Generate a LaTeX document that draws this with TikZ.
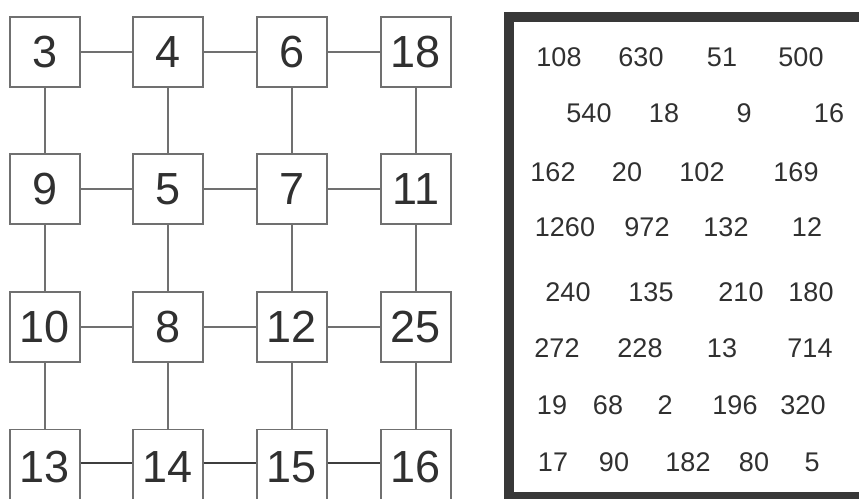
\documentclass[tikz,border=0pt]{standalone}
\usepackage{fontspec}
\setmainfont{Liberation Sans}
\definecolor{boxgray}{HTML}{707070}
\definecolor{txt}{HTML}{303030}
\definecolor{frame}{HTML}{383838}
\begin{document}
\begin{tikzpicture}[x=1pt,y=-1pt,
  cell/.style={draw=boxgray,line width=1.2pt,minimum size=70pt,inner sep=0pt,
    text=txt,font=\fontsize{45}{45}\selectfont},
  lowcell/.style={cell,minimum height=80pt,anchor=north},
  link/.style={draw=boxgray,line width=1.1pt},
  linkb/.style={draw=txt!80!boxgray,line width=1.6pt},
  num/.style={text=txt,inner sep=0pt,font=\fontsize{27}{27}\selectfont}]
\useasboundingbox (0,0) rectangle (859,498);
% grid
\node[cell] (a11) at (45,52) {3};
\node[cell] (a12) at (168,52) {4};
\node[cell] (a13) at (292,52) {6};
\node[cell] (a14) at (416,52) {18};
\node[cell] (a21) at (45,189) {9};
\node[cell] (a22) at (168,189) {5};
\node[cell] (a23) at (292,189) {7};
\node[cell] (a24) at (416,189) {11};
\node[cell] (a31) at (45,327) {10};
\node[cell] (a32) at (168,327) {8};
\node[cell] (a33) at (292,327) {12};
\node[cell] (a34) at (416,327) {25};
\node[lowcell] (a41) at (45,429) {\raisebox{6pt}{13}};
\node[lowcell] (a42) at (168,429) {\raisebox{6pt}{14}};
\node[lowcell] (a43) at (292,429) {\raisebox{6pt}{15}};
\node[lowcell] (a44) at (416,429) {\raisebox{6pt}{16}};
\foreach \r in {1,2,3}{
  \draw[link] (a\r1) -- (a\r2);
  \draw[link] (a\r2) -- (a\r3);
  \draw[link] (a\r3) -- (a\r4);
}
\draw[linkb] (a41.east |- 0,463) -- (a42.west |- 0,463);
\draw[linkb] (a42.east |- 0,463) -- (a43.west |- 0,463);
\draw[linkb] (a43.east |- 0,463) -- (a44.west |- 0,463);
\foreach \c in {1,2,3,4}{
  \draw[link] (a1\c) -- (a2\c);
  \draw[link] (a2\c) -- (a3\c);
  \draw[link] (a3\c) -- (a4\c.north);
}
% right frame
\draw[frame,line width=10pt] (880,17) -- (509,17) -- (509,497) -- (880,497);
% numbers
\node[num] (n11) at (559,57) {108};
\node[num] (n12) at (641,57) {630};
\node[num] (n13) at (722,57) {51};
\node[num] (n14) at (801,57) {500};
\node[num] (n21) at (589,113) {540};
\node[num] (n22) at (664,113) {18};
\node[num] (n23) at (744,113) {9};
\node[num] (n24) at (829,113) {16};
\node[num] (n31) at (553,172) {162};
\node[num] (n32) at (627,172) {20};
\node[num] (n33) at (702,172) {102};
\node[num] (n34) at (796,172) {169};
\node[num] (n41) at (565,227) {1260};
\node[num] (n42) at (647,227) {972};
\node[num] (n43) at (726,227) {132};
\node[num] (n44) at (807,227) {12};
\node[num] (n51) at (568,292) {240};
\node[num] (n52) at (651,292) {135};
\node[num] (n53) at (741,292) {210};
\node[num] (n54) at (811,292) {180};
\node[num] (n61) at (557,348) {272};
\node[num] (n62) at (640,348) {228};
\node[num] (n63) at (722,348) {13};
\node[num] (n64) at (810,348) {714};
\node[num] (n71) at (552,405) {19};
\node[num] (n72) at (608,405) {68};
\node[num] (n73) at (665,405) {2};
\node[num] (n74) at (735,405) {196};
\node[num] (n75) at (803,405) {320};
\node[num] (n81) at (553,462) {17};
\node[num] (n82) at (614,462) {90};
\node[num] (n83) at (688,462) {182};
\node[num] (n84) at (754,462) {80};
\node[num] (n85) at (812,462) {5};
\end{tikzpicture}
\end{document}
